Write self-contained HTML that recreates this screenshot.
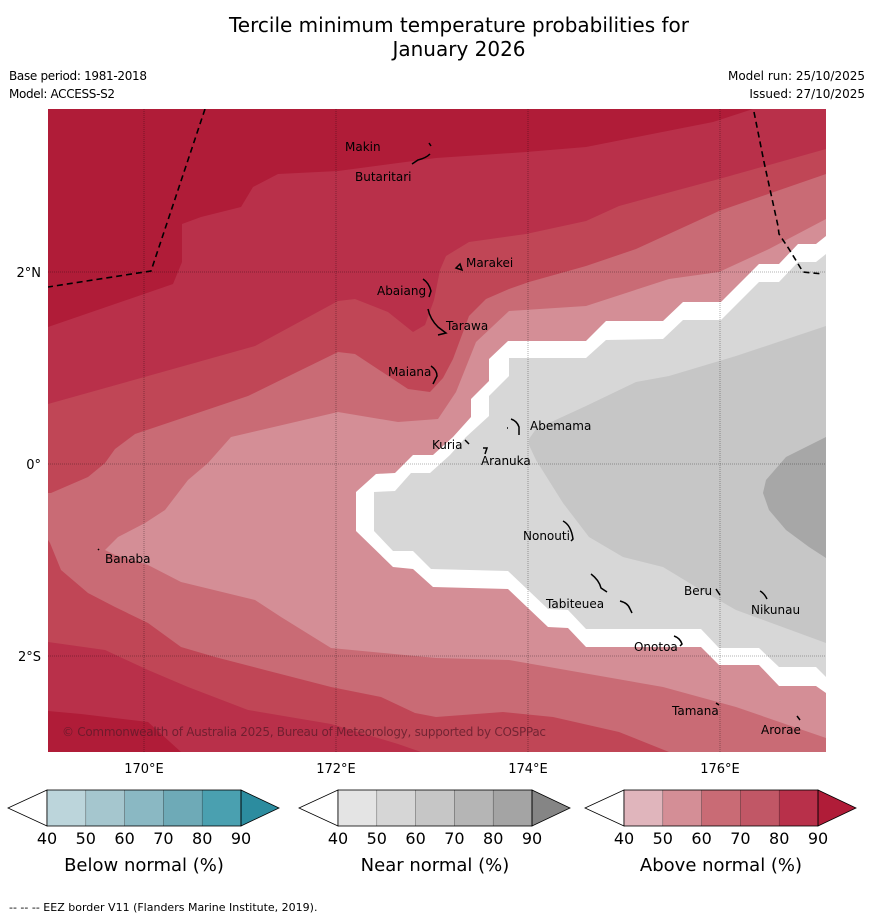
<!DOCTYPE html>
<html><head><meta charset="utf-8"><style>
html,body{margin:0;padding:0;background:#fff;}
svg{display:block;font-family:"DejaVu Sans","Liberation Sans",sans-serif;}
</style></head><body>
<svg id="chart" width="873" height="919" viewBox="0 0 873 919" xmlns="http://www.w3.org/2000/svg">
<text x="459" y="32" font-size="20" text-anchor="middle">Tercile minimum temperature probabilities for</text>
<text x="459" y="56" font-size="20" text-anchor="middle">January 2026</text>
<text x="9" y="80" font-size="12" textLength="138">Base period: 1981-2018</text>
<text x="9" y="98" font-size="12" textLength="106">Model: ACCESS-S2</text>
<text x="865" y="80" font-size="12" text-anchor="end">Model run: 25/10/2025</text>
<text x="865" y="98" font-size="12" text-anchor="end">Issued: 27/10/2025</text>
<defs><clipPath id="mapclip"><rect x="48" y="109" width="778" height="643"/></clipPath></defs>
<g clip-path="url(#mapclip)">
<rect x="48" y="109" width="778" height="643" fill="#b01c38"/>
<polygon fill="#b9304a" points="48,327 173,284 182,262 182,224 201,217 241,207 253,187 278,174 338,171 436,158 526,152 586,147 713,122 753,109 826,109 826,752 181,752 148,722 81,714 48,711"/>
<polygon fill="#c04656" points="48,404 148,376 255,346 338,301 355,299 388,312 413,332 425,325 434,300 440,270 446,256 469,242 526,234 586,221 619,206 719,179 826,149 826,752 421,752 398,744 331,724 248,710 188,687 148,670 105,650 48,642"/>
<polygon fill="#c96b75" points="48,493 51,493 88,477 105,463 115,449 135,434 248,396 338,352 355,354 408,389 430,392 443,378 453,359 469,316 486,299 509,289 529,282 586,266 636,249 719,211 826,174 826,752 669,752 619,732 553,717 503,712 436,717 415,713 381,697 331,687 265,670 215,657 181,647 148,623 115,607 88,593 61,570 50,543 48,540"/>
<polygon fill="#d48e96" points="105,550 118,537 145,523 165,510 188,480 208,463 231,437 338,412 398,422 438,419 456,392 476,342 509,311 586,306 669,279 719,272 769,249 826,219 826,738 736,707 663,687 509,660 436,658 331,648 281,617 255,600 181,582 148,565 115,555"/>
<polygon fill="#ffffff" points="826,236 816,244 798,244 779,264 759,264 721,302 683,302 663,321 606,321 586,341 508,341 489,359 489,381 471,399 471,417 453,437 433,455 413,455 395,473 376,474 356,492 356,531 393,567 413,569 433,587 508,589 548,627 568,628 586,647 701,647 719,665 759,665 779,686 816,686 826,693"/>
<polygon fill="#d7d7d7" points="826,254 816,262 798,262 779,282 759,282 721,320 683,320 663,339 606,340 586,358 509,358 509,376 489,396 489,416 466,437 450,455 430,473 411,473 395,491 374,492 374,531 393,551 413,551 431,569 508,571 548,609 568,610 586,629 701,629 719,648 759,648 779,667 816,667 826,677"/>
<polygon fill="#c6c6c6" points="826,326 736,356 669,376 636,382 586,406 536,429 529,439 529,445 536,460 563,503 589,537 623,557 663,567 696,587 736,610 826,643"/>
<polygon fill="#a7a7a7" points="826,437 786,457 766,480 763,493 769,510 786,530 809,547 826,558"/>
<g id="grid" stroke="#000" stroke-opacity="0.4" stroke-width="0.8" stroke-dasharray="1,1"></g>
<g fill="none" stroke="#000" stroke-width="1.6" stroke-dasharray="6,4">
<polyline points="205,109 151,271 48,287"/>
<polyline points="754,112 764,162 778,226 779,234 789,249 803,272 823,274"/>
</g>
<g fill="none" stroke="#000" stroke-width="1.5">
<path d="M429,143 l2,3 M430,154 q-4,4 -12,6 l-6,4 M423,279 q6,4 8,12 l-2,6 M428,309 q2,10 10,18 l8,6 l-8,2 M456,268 l4,-4 l2,6z M431,366 q6,4 6,10 l-4,8 M511,419 q6,2 8,8 l0,8 M507,428 l1,0 M465,440 l4,4 M483,448 l4,0 l-2,6 M98,549 l1,1 M563,521 q8,4 10,18 l-2,2 M591,574 q8,6 10,14 l6,4 M620,601 q8,2 10,8 l2,4 M674,636 q6,2 8,8 l-2,2 M716,589 l4,6 M760,591 q4,2 7,8 M716,703 l3,2 M797,716 l3,4"/>
</g>
<text x="62" y="736" font-size="12" textLength="484" fill="#5a1a28" fill-opacity="0.75">© Commonwealth of Australia 2025, Bureau of Meteorology, supported by COSPPac</text>
<g id="labels" font-size="12"></g>
</g>
<g id="axes" font-size="13"></g>
<g id="cbars"></g>
<text x="9" y="911" font-size="11">--  --  -- EEZ border V11 (Flanders Marine Institute, 2019).</text>
</svg>
<script>
const lonTicks=[170,172,174,176];
const latTicks=[2,0,-2];
const lonLabels=["170°E","172°E","174°E","176°E"];
const latLabels=["2°N","0°","2°S"];
const islandNames=["Makin","Butaritari","Marakei","Abaiang","Tarawa","Maiana","Abemama","Kuria","Aranuka","Banaba","Nonouti","Tabiteuea","Beru","Nikunau","Onotoa","Tamana","Arorae"];
const islandLon=[172.094,172.198,173.354,172.427,173.146,172.542,174.021,173.0,173.51,169.594,173.948,174.188,175.625,176.323,175.104,175.5,176.427];
const islandLat=[3.302,2.99,2.094,1.802,1.438,0.958,0.396,0.198,0.031,-0.99,-0.75,-1.458,-1.323,-1.521,-1.906,-2.573,-2.771];
const cbTicks=[40,50,60,70,80,90];
const cbTitles=["Below normal (%)","Near normal (%)","Above normal (%)"];
const cbColors=[["#bcd5db","#a5c6ce","#8ab8c3","#6eaab7","#4aa0b0","#2c8c9f"],["#e4e4e4","#d6d6d6","#c6c6c6","#b5b5b5","#a4a4a4","#858585"],["#e0b5bc","#d48e96","#c96b75","#c15766","#b8304a","#b01c38"]];
const cbX0=[47,338,624];
const NS="http://www.w3.org/2000/svg";
const lon0=169.0, lat0=0, px=96, y0=464;
function xs(lon){return 48+(lon-lon0)*px;}
function ys(lat){return y0-(lat-lat0)*px;}
function mk(t,a,p){const e=document.createElementNS(NS,t);for(const k in a)e.setAttribute(k,a[k]);p.appendChild(e);return e;}
const grid=document.getElementById('grid'), axes=document.getElementById('axes');
lonTicks.forEach((v,i)=>{
 const l=mk('line',{x1:xs(v),x2:xs(v),y1:109,y2:752},grid);
 
 
 const t=mk('text',{x:xs(v),y:773,'text-anchor':'middle'},axes);t.textContent=lonLabels[i];
 
 
});
latTicks.forEach((v,i)=>{
 const l=mk('line',{x1:48,x2:826,y1:ys(v),y2:ys(v)},grid);
 
 
 const t=mk('text',{x:41,y:ys(v)+5,'text-anchor':'end'},axes);t.textContent=latLabels[i];
 
 
});
const labels=document.getElementById('labels');
islandNames.forEach((n,i)=>{
 const t=mk('text',{x:xs(islandLon[i]),y:ys(islandLat[i])+4},labels);t.textContent=n;
 
 
});
const cb=document.getElementById('cbars');
const segW=38.8;
cbX0.forEach((x0,k)=>{
 const g=mk('g',{},cb);
 
 
 const yT=790,yB=826,ym=808;
 const lt=mk('polygon',{points:`${x0-39},${ym} ${x0},${yT} ${x0},${yB}`,fill:'#fff',stroke:'#000','stroke-width':0.8},g);
 
 
 for(let i=0;i<5;i++){
  const r=mk('rect',{x:x0+i*segW,y:yT,width:segW,height:yB-yT,fill:cbColors[k][i]},g);
  
  
 }
 const xe=x0+5*segW;
 const rt=mk('polygon',{points:`${xe},${yT} ${xe+38},${ym} ${xe},${yB}`,fill:cbColors[k][5],stroke:'#000','stroke-width':0.8},g);
 
 
 mk('rect',{x:x0,y:yT,width:5*segW,height:yB-yT,fill:'none',stroke:'#000','stroke-width':0.8},g);
 for(let i=1;i<5;i++) mk('line',{x1:x0+i*segW,x2:x0+i*segW,y1:yT,y2:yB,stroke:'#000','stroke-width':0.5,'stroke-opacity':0.6},g);
 cbTicks.forEach((v,i)=>{
  const t=mk('text',{x:x0+i*segW,y:844,'text-anchor':'middle','font-size':16},g);t.textContent=v;
  
  
 });
 const tt=mk('text',{x:x0+2.5*segW,y:871,'text-anchor':'middle','font-size':18},g);tt.textContent=cbTitles[k];
 
 
});
</script>
</body></html>
